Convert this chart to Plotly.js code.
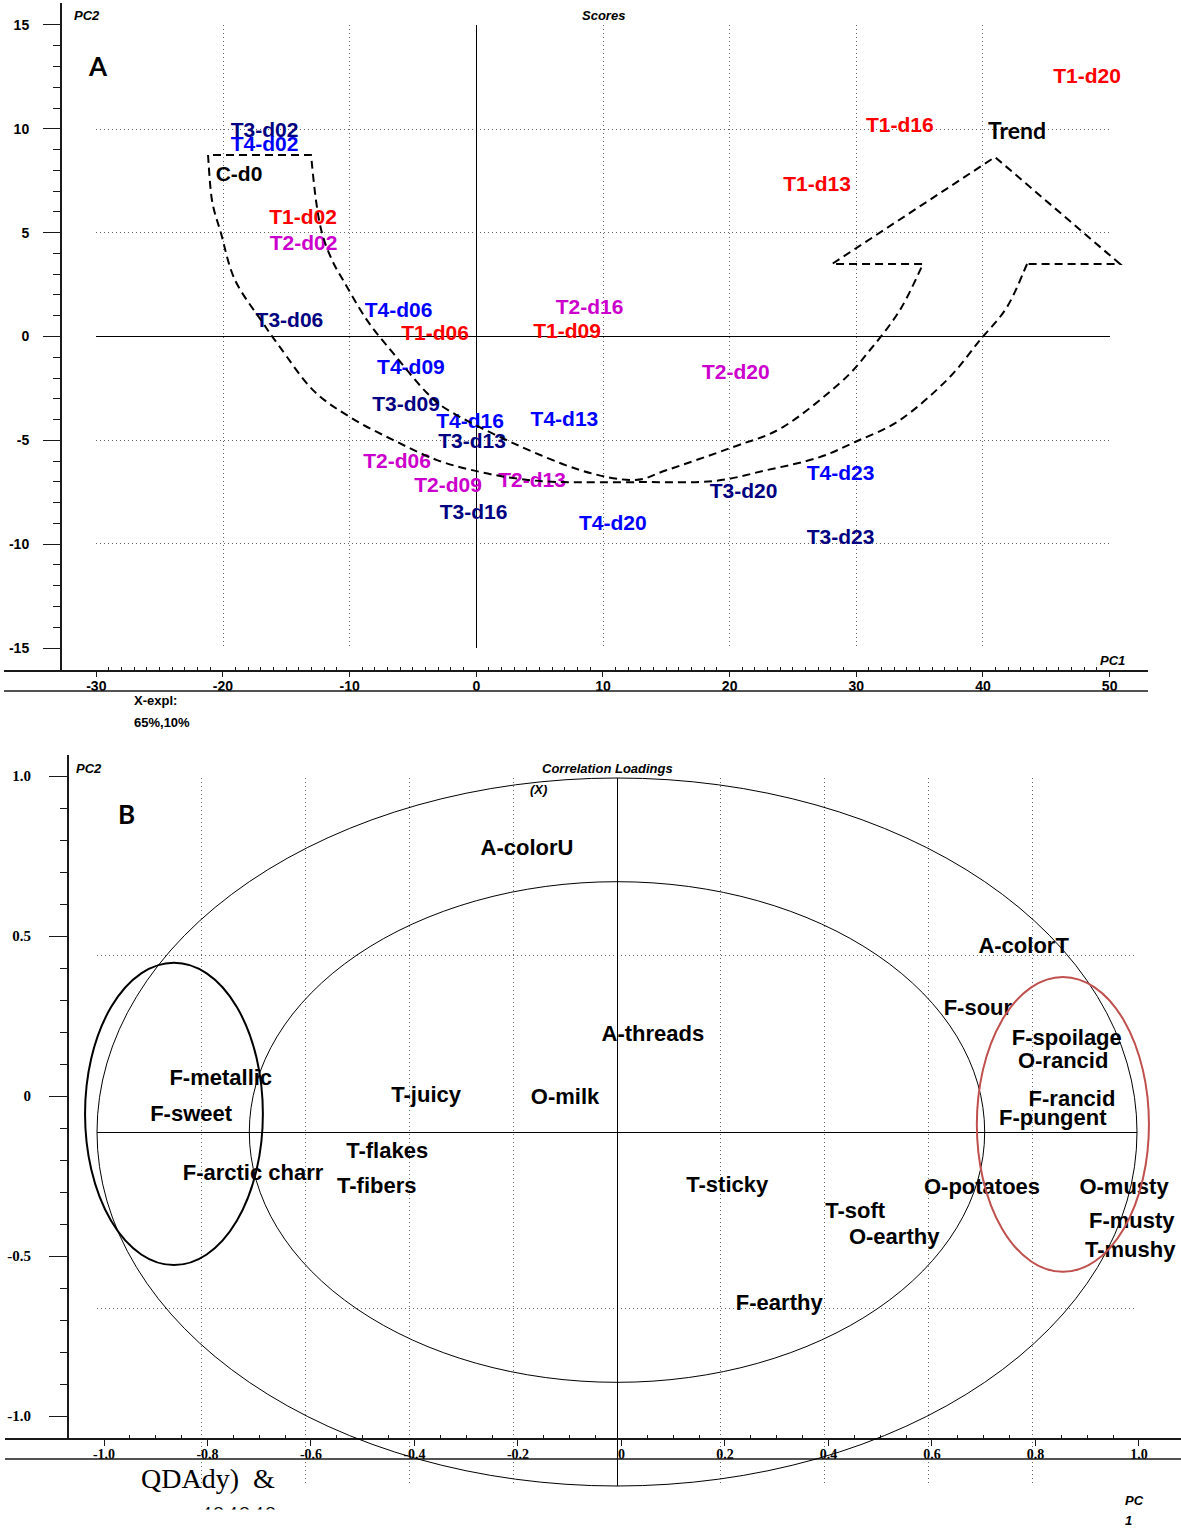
<!DOCTYPE html>
<html><head><meta charset="utf-8">
<script src="https://cdn.plot.ly/plotly-3.0.1.min.js"></script>
<style>html,body{margin:0;padding:0;background:#fff;} #chart{width:1181px;height:1530px;}</style>
</head><body><div id="chart"></div>
<script>
// ---------- Panel A: Scores ----------
const scoreLabels = ['C-d0','T1-d02','T1-d06','T1-d09','T1-d13','T1-d16','T1-d20',
  'T2-d02','T2-d06','T2-d09','T2-d13','T2-d16','T2-d20',
  'T3-d02','T3-d06','T3-d09','T3-d13','T3-d16','T3-d20','T3-d23',
  'T4-d02','T4-d06','T4-d09','T4-d13','T4-d16','T4-d20','T4-d23'];
const scorePC1 = [-18.73,-13.68,-3.26,7.16,26.90,33.44,48.21,
  -13.64,-6.26,-2.23,4.40,8.94,20.49,
  -16.72,-14.75,-5.55,-0.34,-0.22,21.10,28.75,
  -16.72,-6.14,-5.16,6.96,-0.50,10.77,28.75];
const scorePC2 = [7.75,5.65,0.09,0.19,7.27,10.08,12.44,
  4.43,-6.07,-7.25,-6.98,1.32,-1.81,
  9.87,0.72,-3.33,-5.11,-8.55,-7.54,-9.76,
  9.17,1.20,-1.54,-4.06,-4.17,-9.08,-6.65];
const groupColors = {C:'#000000', T1:'#ff0000', T2:'#cc00cc', T3:'#000080', T4:'#0000ff'};
const scoreXTicks = [-30,-20,-10,0,10,20,30,40,50];
const scoreXText  = ['-30','-20','-10','0','10','20','30','40','50'];
const scoreYTicks = [-15,-10,-5,0,5,10,15];
const scoreYText  = ['-15','-10','-5','0','5','10','15'];
// dashed trend band (decoration), PC1/PC2 units
const trendOuter = [[-21.18,8.74],[-20.87,6.57],[-20.16,4.98],[-19.05,2.72],[-16.84,0.65],[-15.50,-0.51],
  [-12.89,-2.58],[-9.97,-3.88],[-6.58,-4.98],[-3.10,-5.95],[0.29,-6.52],[3.45,-6.86],[6.84,-7.01],
  [12.92,-7.01],[18.69,-6.96],[22.95,-6.43],[26.90,-5.85],[29.90,-5.08],[33.45,-4.02],[37.16,-2.09],
  [39.77,-0.17],[41.90,1.42],[43.48,3.49]];
const trendInner = [[-13.05,8.74],[-12.66,6.57],[-12.18,4.98],[-11.39,3.68],[-10.52,2.72],[-8.63,0.79],
  [-6.58,-0.79],[-3.89,-2.72],[-1.84,-3.68],[2.90,-5.13],[8.19,-6.43],[12.37,-6.91],[15.05,-6.43],
  [20.27,-5.32],[24.21,-4.36],[28.71,-2.24],[31.08,-0.65],[33.45,1.28],[35.27,3.49]];
const trendHead = [[28.08,3.49],[40.95,8.64],[50.82,3.49]];

// ---------- Panel B: Correlation loadings ----------
const loadLabels = ['A-colorU','A-colorT','F-sour','F-spoilage','O-rancid','F-rancid','F-pungent','A-threads',
  'F-metallic','F-sweet','T-juicy','O-milk','T-flakes','T-fibers','F-arctic charr','T-sticky','T-soft',
  'O-earthy','O-potatoes','O-musty','F-musty','T-mushy','F-earthy'];
const loadPC1 = [-0.173,0.782,0.694,0.865,0.858,0.875,0.838,0.069,
  -0.762,-0.819,-0.367,-0.100,-0.442,-0.462,-0.700,0.212,0.458,
  0.533,0.702,0.975,0.990,0.987,0.312];
const loadPC2 = [0.799,0.522,0.347,0.260,0.197,0.090,0.034,0.274,
  0.147,0.048,0.101,0.096,-0.057,-0.156,-0.119,-0.153,-0.226,
  -0.300,-0.161,-0.161,-0.255,-0.337,-0.486];
const loadXTicks = [-1,-0.8,-0.6,-0.4,-0.2,0,0.2,0.4,0.6,0.8,1];
const loadXText  = ['-1.0','-0.8','-0.6','-0.4','-0.2','0','0.2','0.4','0.6','0.8','1.0'];
const loadYTicks = [-1,-0.5,0,0.5,1];
const loadYText  = ['-1.0','-0.5','0','0.5','1.0'];
const leftGroup  = {x0:-1.023, x1:-0.681, y0:-0.376, y1:0.478};
const rightGroup = {x0:0.692, x1:1.023, y0:-0.395, y1:0.438};

// ---------- helpers ----------
const W = 1181, H = 1530;
const px = v => v / W;
const py = v => 1 - v / H;
const scoreColors = scoreLabels.map(l => groupColors[l.split('-')[0]]);
const bold = arr => arr.map(t => '<b>' + t + '</b>');

function smooth(pts) {
  let s = '';
  for (let i = 0; i < pts.length - 1; i++) {
    const p0 = pts[i - 1] || pts[i], p1 = pts[i], p2 = pts[i + 1], p3 = pts[i + 2] || p2;
    const c1 = [p1[0] + (p2[0] - p0[0]) / 6, p1[1] + (p2[1] - p0[1]) / 6];
    const c2 = [p2[0] - (p3[0] - p1[0]) / 6, p2[1] - (p3[1] - p1[1]) / 6];
    s += ` C${c1[0]},${c1[1]} ${c2[0]},${c2[1]} ${p2[0]},${p2[1]}`;
  }
  return s;
}
const outerRev = trendOuter.slice().reverse();
let trendPath = `M${outerRev[0][0]},${outerRev[0][1]}` + smooth(outerRev);
trendPath += ` L${trendInner[0][0]},${trendInner[0][1]}` + smooth(trendInner);
trendHead.forEach(p => { trendPath += ` L${p[0]},${p[1]}`; });
trendPath += ` L${outerRev[0][0]},${outerRev[0][1]}`;

function minorVals(lo, hi, step, every) {
  const out = [];
  const n = Math.round((hi - lo) / step);
  for (let i = 0; i <= n; i++) if (i % every !== 0) out.push(+(lo + i * step).toFixed(4));
  return out;
}

const SANS = 'Liberation Sans, Arial, sans-serif';
const SERIF = 'Liberation Serif, Times New Roman, serif';
const AX = '#1a1a1a';

const traces = [
  {x: [], y: [], xaxis: 'x', yaxis: 'y', type: 'scatter', hoverinfo: 'skip', showlegend: false},
  {x: scorePC1, y: scorePC2, text: scoreLabels, xaxis: 'x2', yaxis: 'y2', type: 'scatter', mode: 'text',
   textposition: 'middle center', cliponaxis: false, hoverinfo: 'skip', showlegend: false,
   textfont: {family: SANS, size: 21, weight: 'bold', color: scoreColors}},
  {x: [], y: [], xaxis: 'x3', yaxis: 'y3', type: 'scatter', hoverinfo: 'skip', showlegend: false},
  {x: [], y: [], xaxis: 'x4', yaxis: 'y4', type: 'scatter', hoverinfo: 'skip', showlegend: false},
  {x: loadPC1, y: loadPC2, text: loadLabels, xaxis: 'x5', yaxis: 'y5', type: 'scatter', mode: 'text',
   textposition: 'middle center', cliponaxis: false, hoverinfo: 'skip', showlegend: false,
   textfont: {family: SANS, size: 22, weight: 'bold', color: '#000'}}
];

const gridAxis = {showgrid: true, gridcolor: '#666', gridwidth: 1, griddash: '1px,3px', zeroline: true,
  zerolinecolor: '#000', zerolinewidth: 1, showticklabels: false, ticks: '', showline: false, fixedrange: true};
const hidden = {visible: false, showgrid: false, zeroline: false, fixedrange: true};

const layout = {
  width: W, height: H, margin: {l: 0, r: 0, t: 0, b: 0},
  paper_bgcolor: '#ffffff', plot_bgcolor: 'rgba(0,0,0,0)', showlegend: false,
  font: {family: SANS, color: '#000'},
  // A grid box
  xaxis: Object.assign({}, gridAxis, {domain: [px(96.3), px(1109.7)], range: [-30.02, 50.02], anchor: 'y', tickmode: 'linear', tick0: 0, dtick: 10}),
  yaxis: Object.assign({}, gridAxis, {domain: [py(648), py(25)], range: [-15.02, 15.02], anchor: 'x', tickmode: 'linear', tick0: 0, dtick: 5}),
  // A visible axes + data
  xaxis2: {domain: [px(4), px(1148)], range: [-37.286, 53.028], anchor: 'y2', fixedrange: true,
    showline: true, linecolor: AX, linewidth: 1.5, showgrid: false, zeroline: false,
    ticks: 'outside', ticklen: 5, tickwidth: 1, tickcolor: AX, tickmode: 'array', tickvals: scoreXTicks, ticktext: bold(scoreXText),
    tickfont: {family: SANS, size: 14, weight: 'bold', color: '#000'}, ticklabelstandoff: -2,
    minor: {tickmode: 'array', tickvals: minorVals(-30, 50, 1, 10), ticks: 'inside', ticklen: 3, tickcolor: AX, tickwidth: 1}},
  yaxis2: {domain: [py(670), py(3)], range: [-16.057, 16.057], anchor: 'free', position: px(60), fixedrange: true,
    showline: true, linecolor: AX, linewidth: 1.5, showgrid: false, zeroline: false,
    ticks: 'outside', ticklen: 17, tickwidth: 1, tickcolor: AX, tickmode: 'array', tickvals: scoreYTicks, ticktext: bold(scoreYText),
    tickfont: {family: SANS, size: 14, weight: 'bold', color: '#000'}, ticklabelstandoff: 11,
    minor: {tickmode: 'array', tickvals: minorVals(-15, 15, 1, 5), ticks: 'outside', ticklen: 7, tickcolor: AX, tickwidth: 1}},
  // B grid box
  xaxis3: Object.assign({}, gridAxis, {domain: [px(97), px(1137)], range: [-1.001, 1.001], anchor: 'y3', tickmode: 'linear', tick0: 0, dtick: 0.2}),
  yaxis3: Object.assign({}, gridAxis, {domain: [py(1486), py(778)], range: [-1.001, 1.001], anchor: 'x3', tickmode: 'linear', tick0: 0, dtick: 0.5}),
  // B visible axes
  xaxis4: {domain: [px(5), 1], range: [-1.1913, 1.0812], anchor: 'y4', fixedrange: true,
    showline: true, linecolor: AX, linewidth: 1.5, showgrid: false, zeroline: false,
    ticks: 'outside', ticklen: 6, tickwidth: 1, tickcolor: AX, tickmode: 'array', tickvals: loadXTicks, ticktext: bold(loadXText),
    tickfont: {family: SERIF, size: 14, weight: 'bold', color: '#000'}, ticklabelstandoff: -3,
    minor: {tickmode: 'array', tickvals: minorVals(-1, 1, 0.05, 4), ticks: 'inside', ticklen: 3, tickcolor: AX, tickwidth: 1}},
  yaxis4: {domain: [py(1438), py(755)], range: [-1.06875, 1.065625], anchor: 'free', position: px(67), fixedrange: true,
    showline: true, linecolor: AX, linewidth: 1.5, showgrid: false, zeroline: false,
    ticks: 'outside', ticklen: 18, tickwidth: 1, tickcolor: AX, tickmode: 'array', tickvals: loadYTicks, ticktext: bold(loadYText),
    tickfont: {family: SERIF, size: 15, weight: 'bold', color: '#000'}, ticklabelstandoff: 15,
    minor: {tickmode: 'array', tickvals: minorVals(-1, 1, 0.1, 5), ticks: 'outside', ticklen: 7, tickcolor: AX, tickwidth: 1}},
  // B data axes
  xaxis5: Object.assign({}, hidden, {domain: [0, 1], range: [-1.18654, 1.08462], anchor: 'y5'}),
  yaxis5: Object.assign({}, hidden, {domain: [py(1500), py(750)], range: [-1.03955, 1.07910], anchor: 'x5'}),
  shapes: [
    {type: 'path', xref: 'x2', yref: 'y2', path: trendPath, line: {color: '#000', width: 2, dash: '8px,5px'}, fillcolor: 'rgba(0,0,0,0)'},
    {type: 'line', xref: 'paper', yref: 'paper', x0: px(4), x1: px(1148), y0: py(691), y1: py(691), line: {color: AX, width: 1.5}},
    {type: 'line', xref: 'paper', yref: 'paper', x0: px(5), x1: 1, y0: py(1459), y1: py(1459), line: {color: AX, width: 1.5}},
    {type: 'circle', xref: 'x5', yref: 'y5', x0: -1, x1: 1, y0: -1, y1: 1, line: {color: '#000', width: 1}},
    {type: 'circle', xref: 'x5', yref: 'y5', x0: -Math.SQRT1_2, x1: Math.SQRT1_2, y0: -Math.SQRT1_2, y1: Math.SQRT1_2, line: {color: '#000', width: 1}},
    Object.assign({type: 'circle', xref: 'x5', yref: 'y5', line: {color: '#000', width: 2}}, leftGroup),
    Object.assign({type: 'circle', xref: 'x5', yref: 'y5', line: {color: '#c0504d', width: 2}}, rightGroup)
  ],
  annotations: [
    {xref: 'paper', yref: 'paper', x: px(72), y: py(16), xanchor: 'left', yanchor: 'middle', showarrow: false, text: '<b><i>PC2</i></b>', font: {family: SANS, size: 13, weight: 'bold', style: 'italic'}},
    {xref: 'paper', yref: 'paper', x: px(603), y: py(16), xanchor: 'center', yanchor: 'middle', showarrow: false, text: '<b><i>Scores</i></b>', font: {family: SANS, size: 13, weight: 'bold', style: 'italic'}},
    {xref: 'paper', yref: 'paper', x: px(1112), y: py(660), xanchor: 'center', yanchor: 'middle', showarrow: false, text: '<b><i>PC1</i></b>', font: {family: SANS, size: 13, weight: 'bold', style: 'italic'}},
    {xref: 'paper', yref: 'paper', x: px(132), y: py(701), xanchor: 'left', yanchor: 'middle', showarrow: false, text: '<b>X-expl:</b>', font: {family: SANS, size: 13, weight: 'bold'}},
    {xref: 'paper', yref: 'paper', x: px(132), y: py(722), xanchor: 'left', yanchor: 'middle', showarrow: false, text: '<b>65%,10%</b>', font: {family: SANS, size: 13, weight: 'bold'}},
    {xref: 'paper', yref: 'paper', x: px(97.5), y: py(66), xanchor: 'center', yanchor: 'middle', showarrow: false, text: '<b>A</b>', font: {family: 'Lato, sans-serif', size: 26, weight: 'bold'}},
    {xref: 'x2', yref: 'y2', x: 42.69, y: 9.95, xanchor: 'center', yanchor: 'middle', showarrow: false, text: '<b>Trend</b>', font: {family: 'Lato, sans-serif', size: 23, weight: 'bold'}},
    {xref: 'paper', yref: 'paper', x: px(74), y: py(768), xanchor: 'left', yanchor: 'middle', showarrow: false, text: '<b><i>PC2</i></b>', font: {family: SANS, size: 13, weight: 'bold', style: 'italic'}},
    {xref: 'paper', yref: 'paper', x: px(608), y: py(768), xanchor: 'center', yanchor: 'middle', showarrow: false, text: '<b><i>Correlation Loadings</i></b>', font: {family: SANS, size: 13, weight: 'bold', style: 'italic'}},
    {xref: 'paper', yref: 'paper', x: px(528), y: py(789), xanchor: 'left', yanchor: 'middle', showarrow: false, text: '<b><i>(X)</i></b>', font: {family: SANS, size: 13, weight: 'bold', style: 'italic'}},
    {xref: 'paper', yref: 'paper', x: px(126), y: py(814), xanchor: 'center', yanchor: 'middle', showarrow: false, text: '<b>B</b>', font: {family: 'Lato, sans-serif', size: 26, weight: 'bold'}},
    {xref: 'paper', yref: 'paper', x: px(1134), y: py(1500), xanchor: 'center', yanchor: 'middle', showarrow: false, text: '<b><i>PC</i></b>', font: {family: SANS, size: 13, weight: 'bold', style: 'italic'}},
    {xref: 'paper', yref: 'paper', x: px(1128), y: py(1520), xanchor: 'center', yanchor: 'middle', showarrow: false, text: '<b><i>1</i></b>', font: {family: SANS, size: 13, weight: 'bold', style: 'italic'}},
    {xref: 'paper', yref: 'paper', x: px(208), y: py(1478), xanchor: 'center', yanchor: 'middle', showarrow: false, text: 'QDAdy)  &amp;', font: {family: SERIF, size: 28, color: '#000'}},
    {xref: 'paper', yref: 'paper', x: px(238), y: py(1515), xanchor: 'center', yanchor: 'middle', showarrow: false, text: '404040', font: {family: SERIF, size: 26, color: '#000'}},
    {xref: 'paper', yref: 'paper', x: px(238), y: py(1509), xanchor: 'center', yanchor: 'top', showarrow: false, text: ' ', width: 120, height: 21, borderpad: 0, bgcolor: '#ffffff', font: {size: 10}}
  ]
};

Plotly.newPlot('chart', traces, layout, {displayModeBar: false, staticPlot: true});
</script>
</body></html>
